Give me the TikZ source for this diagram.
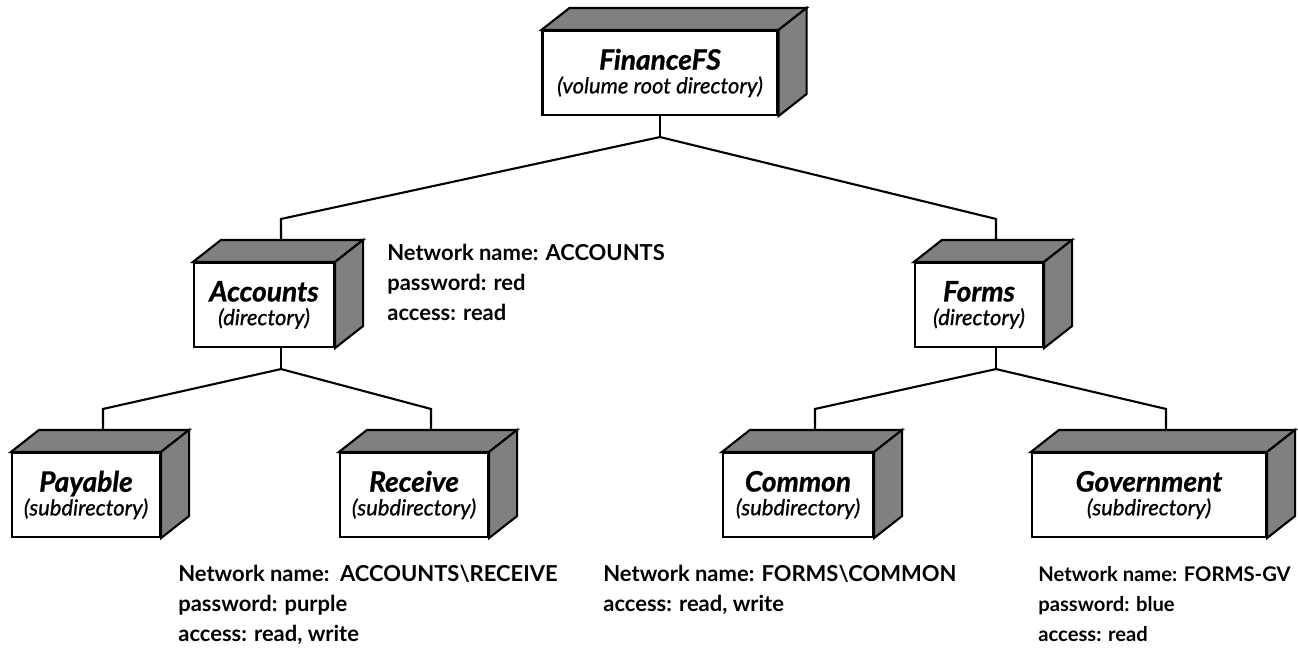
\documentclass[tikz,border=0pt]{standalone}
\usepackage{fontspec}
\setmainfont{Lato}
\newfontfamily\subfam{Lato}[FakeBold=0.8]
\usetikzlibrary{calc}

\newcommand{\ttlfont}{\bfseries\itshape\fontsize{16}{16}\selectfont}
\newcommand{\subfont}{\subfam\itshape\fontsize{12.5}{13.5}\selectfont}
\newcommand{\infofont}{\bfseries\fontsize{12.5}{17}\selectfont}

\tikzset{
  front/.style={draw, line width=1.2pt, fill=white, inner sep=0pt, align=center, font=\subfont},
  face/.style={draw, line width=1.2pt, fill=black!50},
  tree/.style={line width=1.2pt},
  info/.style={anchor=north west, align=left, inner sep=0pt, font=\infofont}
}

% directory box: name, x, y, width, title, subtitle
\newcommand{\dirbox}[6]{
  \node[front, minimum width=#4*0.02cm, minimum height=84*0.02cm] (#1) at (#2,#3) {{\ttlfont #5}\\{\subfont #6}};
  \filldraw[face] (#1.north west) -- ++(28,-22) -- ($(#1.north east)+(28,-22)$) -- (#1.north east) -- cycle;
  \filldraw[face] (#1.north east) -- ++(28,-22) -- ($(#1.south east)+(28,-22)$) -- (#1.south east) -- cycle;
  \coordinate (#1-top) at ($(#1.north)+(17,-22)$);
  \coordinate (#1-bot) at ($(#1.south)+(17,0)$);
}

\begin{document}
\begin{tikzpicture}[x=0.02cm, y=-0.02cm]
  \useasboundingbox (0,0) rectangle (1298,650);

  % Boxes
  \dirbox{fin}{660}{73}{235}{FinanceFS}{(volume root directory)}
  \dirbox{acc}{264}{305}{140}{Accounts}{(directory)}
  \dirbox{frm}{979}{305}{128}{Forms}{(directory)}
  \dirbox{pay}{86}{495}{148}{Payable}{(subdirectory)}
  \dirbox{rec}{414}{495}{148}{Receive}{(subdirectory)}
  \dirbox{com}{798}{495}{150}{Common}{(subdirectory)}
  \dirbox{gov}{1149}{495}{234}{Government}{(subdirectory)}

  % Connectors
  \draw[tree] (fin.south) -- ++(0,21) coordinate (fin-j);
  \draw[tree] (fin-j) -- ($(acc-top)+(0,-21)$) -- (acc-top);
  \draw[tree] (fin-j) -- ($(frm-top)+(0,-21)$) -- (frm-top);
  \draw[tree] (acc-bot) -- ++(0,21) coordinate (acc-j);
  \draw[tree] (acc-j) -- ($(pay-top)+(0,-21)$) -- (pay-top);
  \draw[tree] (acc-j) -- ($(rec-top)+(0,-21)$) -- (rec-top);
  \draw[tree] (frm-bot) -- ++(0,21) coordinate (frm-j);
  \draw[tree] (frm-j) -- ($(com-top)+(0,-21)$) -- (com-top);
  \draw[tree] (frm-j) -- ($(gov-top)+(0,-21)$) -- (gov-top);

  % Network info
  \node[info] (acc-info) at (387,244) {Network name: ACCOUNTS\\password: red\\access: read};
  \node[info] (rec-info) at (178,565) {Network name:\ \ ACCOUNTS\textbackslash RECEIVE\\password: purple\\access: read, write};
  \node[info] (com-info) at (603,565) {Network name: FORMS\textbackslash COMMON\\access: read, write};
  \node[info, font=\bfseries\fontsize{11.5}{17}\selectfont] (gov-info) at (1038,566) {Network name: FORMS-GV\\password: blue\\access: read};
\end{tikzpicture}
\end{document}
